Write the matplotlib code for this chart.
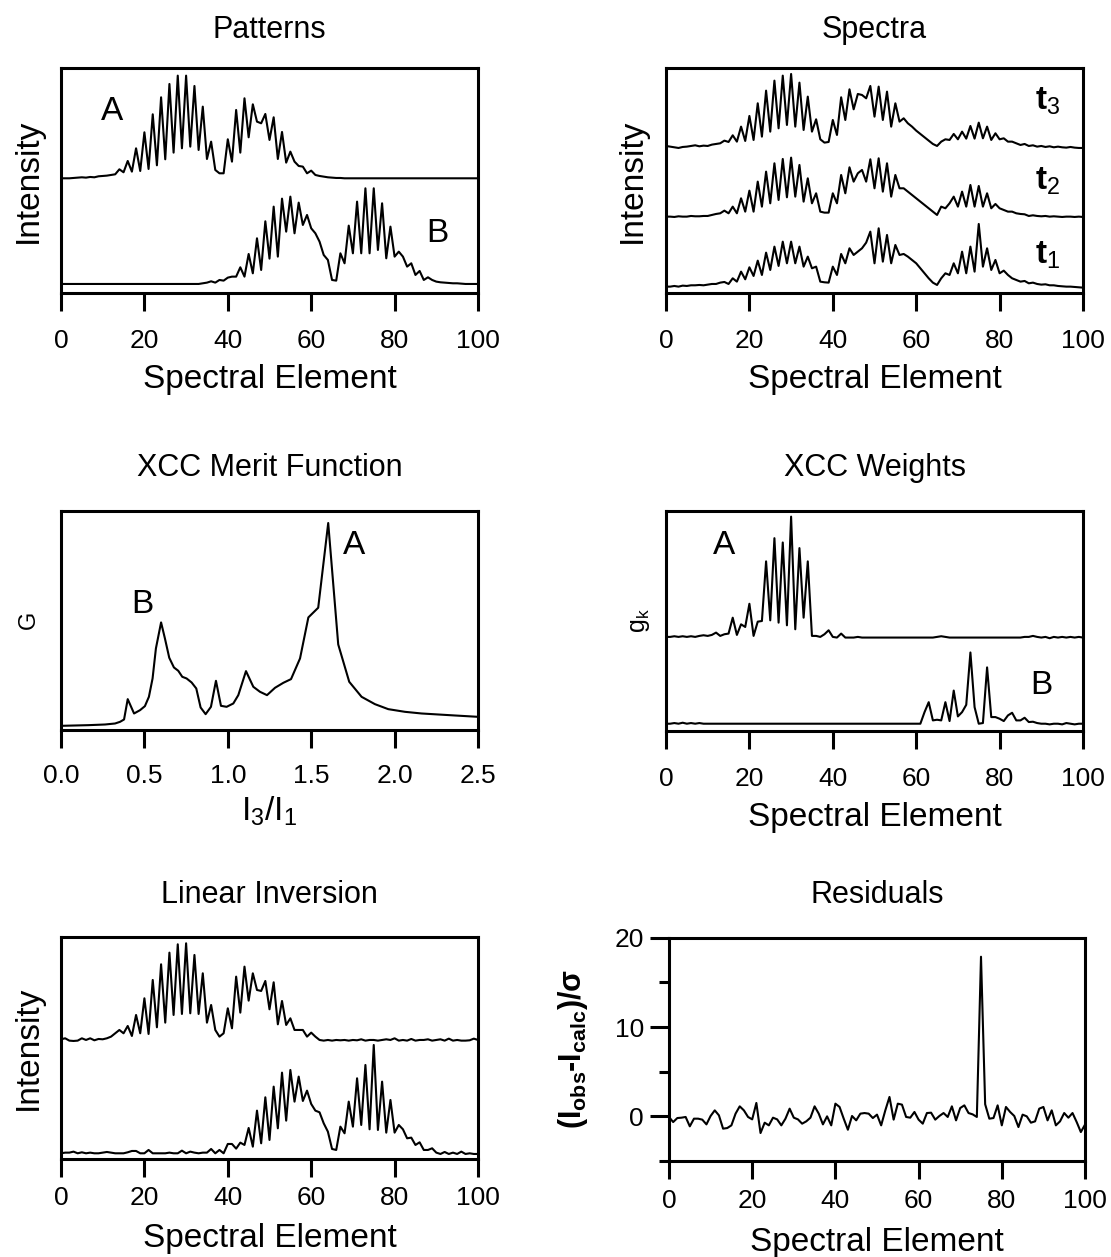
import matplotlib
matplotlib.use("Agg")
import matplotlib.pyplot as plt
import numpy as np

plt.rcParams['font.family'] = ['Liberation Sans', 'DejaVu Sans']
plt.rcParams['mathtext.fontset'] = 'custom'
plt.rcParams['mathtext.rm'] = 'Liberation Sans'
plt.rcParams['mathtext.it'] = 'Liberation Sans:italic'
plt.rcParams['mathtext.bf'] = 'Liberation Sans:bold'

# ---- data ----
element = np.arange(101)

pattern_a = ([0, 0, 0, 1, 2, 3, 2, 4, 3, 6, 7, 8, 10, 12,
              27, 18, 52, 20, 90, 22, 138, 28, 192, 39, 243, 57, 283, 77, 308, 90, 308, 95, 277, 85, 215, 58,
              110, 25, 15, 15, 117, 50, 205, 77, 240, 123, 222, 170, 165, 193, 115, 183, 58, 139, 47, 80,
              50, 37, 35, 15, 23, 10, 7, 5, 3, 2, 1, 1] + [0] * 33)
pattern_b = ([0] * 34 +
             [2, 4, 8, 4, 12, 10, 19, 22, 22, 50, 22, 90, 32, 137, 42, 188, 76, 232, 82, 256,
              157, 262, 152, 244, 177, 207, 167, 152, 127, 87, 72, 12,
              10, 92, 62, 175, 92, 247, 92, 287, 92, 287, 102, 242, 77, 172, 82, 97, 82, 52, 62, 27,
              39, 12, 20, 12, 7, 5, 4, 3, 2, 2, 1, 0, 0, 0, 0])

spec_t3 = [6, 4, 2, 0, 3, 4, 6, 8, 5, 7,
           6, 10, 12, 14, 22, 18, 38, 19, 64, 21,
           96, 24, 134, 34, 172, 49, 202, 59, 217, 69,
           222, 64, 196, 54, 154, 49, 86, 26, 16, 18,
           84, 39, 152, 84, 176, 116, 162, 159, 149, 186,
           94, 184, 84, 169, 64, 134, 79, 89, 74, 64,
           52, 42, 32, 22, 12, 6, 19, 26, 24, 42,
           26, 49, 28, 66, 28, 76, 29, 64, 24, 44,
           26, 29, 19, 19, 14, 9, 12, 6, 8, 4,
           6, 3, 5, 2, 4, 2, 1, 3, 1, 0, 0]
spec_t2 = [1, 1, 0, 2, 1, 1, 3, 2, 2, 3,
           3, 6, 9, 11, 19, 11, 31, 11, 56, 16,
           79, 16, 106, 31, 136, 41, 161, 51, 174, 59,
           178, 61, 156, 46, 116, 41, 71, 16, 13, 13,
           71, 41, 126, 71, 149, 106, 131, 141, 106, 173,
           86, 176, 76, 161, 61, 126, 86, 86, 76, 66,
           56, 46, 36, 26, 16, 6, 31, 26, 41, 61,
           31, 76, 31, 96, 31, 93, 31, 71, 26, 39,
           26, 21, 16, 16, 11, 9, 8, 3, 5, 3,
           2, 3, 1, 2, 1, 0, 1, 1, 0, 1, 0]
spec_t1 = [3, 3, 5, 3, 6, 5, 7, 7, 8, 7,
           9, 11, 11, 15, 17, 11, 28, 18, 48, 25,
           61, 35, 81, 38, 105, 53, 123, 65, 138, 73,
           138, 73, 123, 63, 93, 58, 63, 18, 16, 15,
           63, 38, 101, 73, 118, 98, 108, 118, 135, 168,
           73, 178, 78, 158, 73, 128, 98, 101, 93, 83,
           73, 58, 43, 28, 15, 8, 28, 43, 38, 73,
           43, 108, 43, 123, 48, 191, 63, 118, 53, 83,
           43, 51, 38, 28, 23, 18, 20, 13, 15, 11,
           9, 10, 7, 7, 5, 4, 3, 3, 2, 1, 0]

ratio = [0.0, 0.164, 0.264, 0.324, 0.354, 0.378, 0.40, 0.438, 0.474, 0.503, 0.527, 0.549, 0.569,
         0.60, 0.623, 0.649, 0.677, 0.703, 0.727, 0.753, 0.783, 0.811, 0.837, 0.867, 0.899, 0.929,
         0.959, 0.993, 1.033, 1.063, 1.109, 1.153, 1.193, 1.235, 1.283, 1.333, 1.379, 1.433, 1.483,
         1.542, 1.602, 1.662, 1.728, 1.802, 1.882, 1.962, 2.062, 2.162, 2.262, 2.362, 2.50]
merit = [11, 13, 15, 18, 23, 30, 91, 48, 58, 70, 98, 153, 243,
         321, 273, 215, 186, 176, 158, 153, 141, 123, 66, 46, 68, 146,
         71, 68, 78, 103, 175, 128, 113, 103, 125, 140, 151, 213, 336,
         365, 619, 255, 143, 98, 76, 61, 53, 48, 45, 42, 38]

weight_a = [0, 0, 2, 0, 2, 0, 2, 0, 3, 5,
            3, 6, 13, 3, 8, 10, 58, 6, 38, 30,
            100, 3, 46, 48, 228, 50, 298, 43, 285, 35,
            363, 23, 268, 58, 228, 3, 3, 0, 8, 20,
            0, -2, 10, -2, -2, -2, 0, -2, -2, -2,
            -2, -2, -2, -2, -2, -2, -2, -2, -2, -2,
            -2, -2, -2, -2, -2, 0, 2, 0, -2, -2,
            -2, -2, -2, -2, -2, -2, -2, -2, -2, -2,
            -2, -2, -2, -2, -2, -2, 0, 0, 3, 0,
            -2, 0, -4, 0, -2, 0, -2, 0, -2, 0, -2]
weight_b = ([0, 0, 2, 0, 3, 0, 2, 0, 2, 0] + [0] * 50 +
            [0, 0, 35, 65, 10, 12, 10, 65, 8, 100,
             22, 35, 57, 215, 50, 0, 2, 170, 20, 20,
             15, 8, 25, 33, 10, 10, 18, 5, 6, 2,
             0, 0, -2, 0, 0, -2, 2, 0, -2, 0, 0])

inv_a = [2, 5, -2, -3, -2, 5, 0, 5, -1, 3,
         2, 5, 10, 20, 30, 20, 42, 12, 75, 20,
         125, 18, 180, 38, 227, 52, 262, 75, 287, 78,
         290, 80, 255, 78, 200, 52, 105, 30, 10, 20,
         95, 35, 190, 82, 220, 118, 200, 150, 147, 177,
         92, 173, 47, 117, 45, 65, 30, 30, 30, 10,
         22, 10, 0, -2, 0, -2, 0, -1, 0, -2,
         0, -1, 2, -2, 0, 0, -2, 0, 2, 0,
         5, -2, 0, -2, 3, -2, 0, 0, 2, -2,
         0, 2, -2, 4, -2, 0, -2, -2, -1, 4, 0]
inv_b = [0, 2, 2, 5, 0, 3, 0, 2, 0, 0,
         2, 4, 2, 0, 0, 0, 3, 7, 7, 0,
         0, 10, 0, 0, 0, 0, 2, 0, 0, 8,
         0, 5, 2, 0, 2, 2, 13, 0, 10, 0,
         28, 28, 14, 32, 25, 76, 20, 128, 30, 168,
         40, 200, 75, 242, 98, 250, 155, 230, 157, 188,
         148, 128, 123, 90, 65, 13, 10, 80, 60, 155,
         80, 225, 85, 265, 72, 325, 70, 215, 62, 160,
         62, 85, 72, 45, 47, 25, 33, 10, 10, 15,
         2, -2, 4, -2, 2, -2, 5, -2, 0, -2, -2]

resid = [-0.07, -0.64, -0.19, -0.15, -0.07, -1.12, -0.26, -0.26, -0.37, -0.90,
         0.04, 0.67, 0.11, -1.38, -1.31, -1.01, 0.30, 1.12, 0.67, -0.07,
         -0.34, 1.50, -1.87, -0.71, -1.01, -0.15, -0.34, -1.01, -0.26, 0.86,
         -0.15, -0.34, -0.82, -0.56, -0.15, 1.12, 0.30, -0.90, 0.0, -1.01,
         1.42, 1.05, -0.26, -1.50, 0.04, -0.45, 0.30, 0.37, 0.30, -0.19,
         0.19, -1.01, 0.67, 2.17, -0.37, 1.42, 1.31, -0.07, -0.15, 0.49,
         -0.37, -0.82, 0.37, 0.41, -0.37, 0.04, 0.37, -0.07, 1.12, -0.45,
         0.93, 1.23, 0.37, 0.22, -0.07, 17.87, 1.35, -0.26, -0.19, 1.23,
         -1.01, 1.05, 0.49, 0.04, -1.20, 0.19, 0.0, -0.71, -0.56, 0.86,
         1.05, -0.45, 0.67, -1.01, -0.56, 0.37, -0.15, 0.37, -0.64, -1.76, -0.93]

# ---- layout ----
W, H = 1111, 1257
fig = plt.figure(figsize=(W / 100, H / 100), dpi=100)
LW = 1.5
TICK = 19
LAB = 24


def px_axes(x0, y0, x1, y1):
    ax = fig.add_axes([x0 / W, 1 - y1 / H, (x1 - x0) / W, (y1 - y0) / H])
    ax.h_px = y1 - y0
    ax.w_px = x1 - x0
    return ax


def style(ax, title, pad, tpad):
    for s in ax.spines.values():
        s.set_linewidth(2.2)
    ax.tick_params(axis='x', direction='out', length=13, width=2.2, labelsize=TICK, pad=tpad)
    ax.set_yticks([])
    ax.set_title(title, fontsize=22, pad=pad)


def xlabel_at(ax, text, dist):
    # dist: pixels from the bottom spine to the top of the label
    ax.set_xlabel(text, fontsize=LAB)
    ax.xaxis.set_label_coords(0.5, -dist / ax.h_px)


def ylabel_at(ax, text, dist, size=LAB, **kw):
    # dist: pixels from the left spine to the right edge of the rotated label
    ax.set_ylabel(text, fontsize=size, **kw)
    ax.yaxis.set_label_coords(-dist / ax.w_px, 0.5)


def spectral_x(ax, dist):
    ax.set_xlim(0, 100)
    ax.set_xticks([0, 20, 40, 60, 80, 100])
    xlabel_at(ax, 'Spectral Element', dist)


# Patterns
ax1 = px_axes(61, 68.3, 478, 293.3)
ax1.plot(element, np.array(pattern_a) + 345, 'k-', lw=LW)
ax1.plot(element, np.array(pattern_b) + 28, 'k-', lw=LW)
ax1.set_ylim(0, 675)
style(ax1, 'Patterns', 22, 12.5)
spectral_x(ax1, 71)
ylabel_at(ax1, 'Intensity', 17)
ax1.text(0.122, 0.806, 'A', transform=ax1.transAxes, fontsize=LAB, ha='center', va='center')
ax1.text(0.902, 0.268, 'B', transform=ax1.transAxes, fontsize=LAB, ha='center', va='center')

# Spectra
ax2 = px_axes(666, 68.3, 1083, 293.3)
ax2.plot(element, np.array(spec_t3) + 436, 'k-', lw=LW)
ax2.plot(element, np.array(spec_t2) + 229, 'k-', lw=LW)
ax2.plot(element, np.array(spec_t1) + 17, 'k-', lw=LW)
ax2.set_ylim(0, 675)
style(ax2, 'Spectra', 22, 12.5)
spectral_x(ax2, 71)
ylabel_at(ax2, 'Intensity', 18)
for lab, fy in [('3', 0.815), ('2', 0.459), ('1', 0.134)]:
    ax2.text(0.885, fy, 't$_\\mathrm{%s}$' % lab, transform=ax2.transAxes, fontsize=LAB,
             fontweight='bold', ha='left', va='baseline')

# XCC merit function
ax3 = px_axes(61, 511, 478, 729.5)
ax3.plot(ratio, merit, 'k-', lw=LW)
ax3.set_xlim(0, 2.5)
ax3.set_ylim(0, 655)
style(ax3, 'XCC Merit Function', 25, 12)
ax3.set_xticks([0.0, 0.5, 1.0, 1.5, 2.0, 2.5])
ax3.set_xticklabels(['0.0', '0.5', '1.0', '1.5', '2.0', '2.5'])
xlabel_at(ax3, 'I$_\\mathrm{3}$/I$_\\mathrm{1}$', 65)
ylabel_at(ax3, 'G', 21, size=17)
ax3.text(0.194, 0.570, 'B', transform=ax3.transAxes, fontsize=LAB, ha='center', va='center')
ax3.text(0.703, 0.840, 'A', transform=ax3.transAxes, fontsize=LAB, ha='center', va='center')

# XCC weights
ax4 = px_axes(666, 511, 1083, 731)
ax4.plot(element, np.array(weight_a) + 284, 'k-', lw=LW)
ax4.plot(element, np.array(weight_b) + 22, 'k-', lw=LW)
ax4.set_ylim(0, 664)
style(ax4, 'XCC Weights', 25, 13)
spectral_x(ax4, 71)
ylabel_at(ax4, 'g$_\\mathrm{k}$', 14, size=18)
ax4.text(0.139, 0.845, 'A', transform=ax4.transAxes, fontsize=LAB, ha='center', va='center')
ax4.text(0.899, 0.205, 'B', transform=ax4.transAxes, fontsize=LAB, ha='center', va='center')

# Linear inversion
ax5 = px_axes(61, 937.3, 478, 1159.3)
ax5.plot(element, np.array(inv_a) + 358, 'k-', lw=LW)
ax5.plot(element, np.array(inv_b) + 18, 'k-', lw=LW)
ax5.set_ylim(0, 666)
style(ax5, 'Linear Inversion', 25, 6)
spectral_x(ax5, 64)
ylabel_at(ax5, 'Intensity', 17)

# Residuals
ax6 = px_axes(669, 937.7, 1085, 1161)
ax6.plot(element, resid, 'k-', lw=LW)
ax6.set_ylim(-5, 20)
style(ax6, 'Residuals', 25, 7)
spectral_x(ax6, 66)
ax6.set_yticks([0, 10, 20])
ax6.set_yticks([-5, 5, 15], minor=True)
ax6.tick_params(axis='y', which='major', direction='out', length=14, width=2.2, labelsize=TICK, pad=4)
ax6.tick_params(axis='y', which='minor', direction='out', length=7, width=2.2)
ylabel_at(ax6, '(I$_\\mathbf{obs}$-I$_\\mathbf{calc}$)/σ', 79, size=22, fontweight='bold')

fig.savefig('out.png', dpi=100)
